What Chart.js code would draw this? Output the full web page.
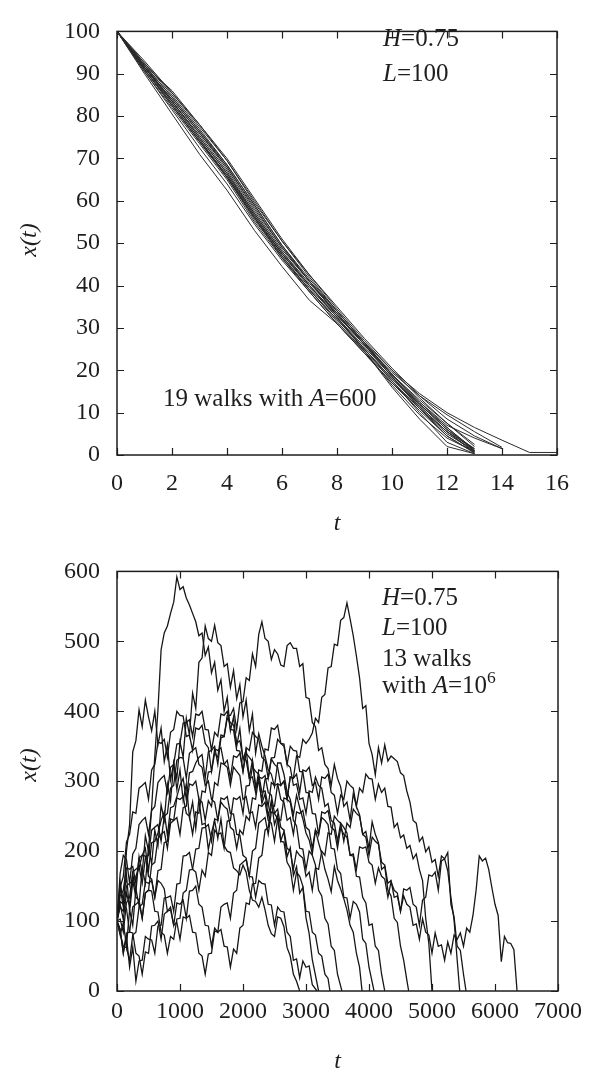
<!DOCTYPE html>
<html>
<head>
<meta charset="utf-8">
<script src="https://cdn.jsdelivr.net/npm/chart.js@4.4.1/dist/chart.umd.min.js"></script>
<style>
  body { margin: 0; background: #fff; width: 595px; height: 1070px; position: relative; overflow: hidden; }
  .box { position: absolute; left: 0; width: 595px; }
</style>
</head>
<body>
<div class="box" style="top:0;height:540px"><canvas id="topChart" width="595" height="540"></canvas></div>
<div class="box" style="top:540px;height:530px"><canvas id="bottomChart" width="595" height="530"></canvas></div>
<script>
// top panel: 19 walks with A=600, sampled at integer t
const topT = [0, 1, 2, 3, 4, 5, 6, 7, 8, 9, 10, 11, 12, 13, 14, 15, 16];
const topWalks = [
  [100, 92, 86, 78, 70, 60.5, 51, 42.5, 34.5, 27, 20, 14.5, 10, 6.5, 3.5, 0.6, 0.6],
  [100, 91.5, 84, 76, 68, 58.5, 49, 41, 33, 26, 19.5, 14, 9.5, 5.5, 1.8],
  [100, 92, 84.5, 76.5, 68.5, 59, 49.5, 41.5, 34, 26.5, 19, 12.5, 7, 4, 1.5],
  [100, 91, 82.5, 74, 65.5, 55.5, 47, 39, 32, 25, 18, 11.5, 5.5, 0.8],
  [100, 91.5, 83.5, 75.5, 67, 57, 48, 40, 32.5, 25.5, 18.5, 12, 6, 1],
  [100, 90.5, 81.5, 72.5, 64, 54.5, 46, 38.5, 31, 24, 17, 10.5, 4.5, 0.5],
  [100, 92.5, 85, 77, 68.5, 59, 49.5, 41, 33.5, 26, 18.5, 11.5, 5.5, 1.5],
  [100, 91.5, 83.5, 75, 66.5, 56.5, 47.5, 39.5, 32.5, 25, 17.5, 10, 3, 0.3],
  [100, 91, 82.5, 74, 66, 56.5, 47.5, 40, 32.5, 24.5, 16.5, 9.5, 4, 0.8],
  [100, 91.5, 83, 74.5, 65.5, 56, 47, 39, 32, 25, 18, 12, 6.5, 1.2],
  [100, 92.5, 85.5, 78, 69.5, 59.5, 50.5, 42, 34, 26.5, 19, 12.5, 6.5, 1],
  [100, 91, 83, 74.5, 66, 56, 46.5, 38.5, 31, 24, 17, 11, 5.5, 0.5],
  [100, 90, 80.5, 71, 62.5, 53, 44.5, 36.5, 31, 24.5, 16, 8.5, 2, 0.3],
  [100, 92, 84.5, 76.5, 68, 58, 49, 41, 33, 26, 19, 13, 7.5, 2.5],
  [100, 91, 82.5, 74, 65.5, 56, 47.5, 40, 33, 26.5, 20, 13.5, 7.5, 2],
  [100, 92, 83.5, 75, 66.5, 57, 48, 40.5, 33.5, 26, 18.5, 11, 4.5, 0.5],
  [100, 93, 85.5, 77.5, 69.5, 60, 50.5, 42.5, 35, 27.5, 20.5, 14, 8.5, 4.5, 1.5],
  [100, 90.5, 82, 73.5, 65, 55, 46.5, 39, 31.5, 24.5, 17.5, 11, 5, 1],
  [100, 91.5, 84, 76, 67.5, 57.5, 48.5, 41, 34, 26.5, 19, 12, 6, 1.5]
];

// bottom panel: 13 walks with A=10^6, sampled every 50 in t; each walk stops at x=0 at its end time
const botT = [0, 50, 100, 150, 200, 250, 300, 350, 400, 450, 500, 550, 600, 650, 700, 750, 800, 850, 900, 950,
  1000, 1050, 1100, 1150, 1200, 1250, 1300, 1350, 1400, 1450, 1500, 1550, 1600, 1650, 1700, 1750, 1800, 1850, 1900, 1950,
  2000, 2050, 2100, 2150, 2200, 2250, 2300, 2350, 2400, 2450, 2500, 2550, 2600, 2650, 2700, 2750, 2800, 2850, 2900, 2950,
  3000, 3050, 3100, 3150, 3200, 3250, 3300, 3350, 3400, 3450, 3500, 3550, 3600, 3650, 3700, 3750, 3800, 3850, 3900, 3950,
  4000, 4050, 4100, 4150, 4200, 4250, 4300, 4350, 4400, 4450, 4500, 4550, 4600, 4650, 4700, 4750, 4800, 4850, 4900, 4950,
  5000, 5050, 5100, 5150, 5200, 5250, 5300, 5350, 5400, 5450, 5500, 5550, 5600, 5650, 5700, 5750, 5800, 5850, 5900, 5950,
  6000, 6050, 6100, 6150, 6200, 6250, 6300];
const botEnds = [3200, 2900, 3890, 4630, 5440, 6350, 3380, 3570, 4250, 5000, 5540, 3175, 4080];
const botWalks = [
  [100, 124, 102, 140, 122, 168, 142, 192, 168, 222, 200, 262, 336, 402, 488, 512, 522, 540, 556, 592,
   574, 578, 562, 552, 540, 528, 508, 512, 480, 492, 455, 470, 430, 445, 400, 420, 372, 392, 350, 375,
   330, 345, 305, 330, 290, 305, 268, 282, 250, 272, 238, 252, 215, 228, 192, 205, 165, 178, 140, 148,
   105, 82, 45],
  [100, 148, 120, 200, 238, 342, 358, 402, 378, 416, 392, 372, 400, 352, 376, 328, 352, 302, 326, 288,
   316, 272, 296, 248, 270, 232, 274, 238, 240, 202, 226, 244, 218, 246, 208, 200, 198, 176, 172, 166,
   180, 170, 144, 130, 128, 120, 134, 116, 94, 82, 78, 106, 104, 92, 62, 50, 24, 14],
  [100, 80, 98, 64, 116, 94, 146, 122, 176, 154, 206, 182, 230, 208, 266, 244, 296, 272, 326, 304,
   356, 334, 390, 366, 426, 404, 470, 476, 522, 504, 500, 523, 498, 494, 464, 468, 434, 458, 418, 438,
   392, 416, 372, 396, 340, 368, 350, 336, 316, 310, 292, 326, 326, 310, 284, 274, 252, 280, 262, 246,
   226, 216, 196, 230, 212, 196, 174, 160, 142, 178, 158, 146, 132, 116, 94, 84, 54, 34],
  [100, 156, 128, 166, 114, 156, 164, 176, 194, 204, 172, 212, 214, 226, 244, 256, 222, 262, 264, 278,
   294, 304, 274, 312, 314, 326, 334, 338, 304, 342, 344, 350, 324, 362, 364, 394, 394, 404, 374, 412,
   414, 448, 444, 482, 464, 510, 528, 504, 500, 474, 488, 482, 466, 464, 494, 498, 490, 490, 464, 468,
   420, 418, 384, 378, 344, 348, 324, 318, 294, 324, 304, 292, 264, 270, 244, 282, 264, 252, 224, 228,
   204, 242, 224, 212, 174, 178, 144, 136, 104, 98, 64, 44, 16],
  [100, 82, 64, 62, 44, 80, 84, 120, 124, 156, 154, 158, 134, 172, 174, 212, 214, 246, 244, 248,
   224, 262, 264, 296, 294, 300, 274, 270, 244, 272, 264, 298, 294, 326, 324, 330, 304, 336, 334, 340,
   314, 348, 344, 370, 364, 360, 334, 330, 304, 332, 324, 320, 294, 300, 274, 306, 304, 336, 334, 360,
   354, 360, 369, 390, 384, 420, 424, 462, 464, 496, 494, 530, 534, 555, 532, 508, 479, 448, 404, 408,
   354, 338, 309, 348, 326, 352, 329, 336, 332, 328, 312, 308, 286, 270, 244, 240, 214, 220, 199, 206,
   184, 188, 164, 193, 189, 172, 134, 102, 44],
  [100, 88, 54, 78, 34, 63, 14, 43, 44, 78, 74, 73, 54, 93, 94, 133, 134, 136, 114, 153,
   154, 193, 194, 198, 174, 170, 144, 173, 164, 198, 194, 230, 224, 226, 204, 243, 244, 276, 274, 278,
   254, 293, 294, 320, 314, 310, 284, 286, 264, 298, 294, 296, 274, 270, 244, 248, 224, 256, 254, 258,
   234, 230, 204, 230, 224, 256, 254, 258, 234, 230, 204, 233, 224, 220, 194, 196, 174, 206, 204, 206,
   184, 180, 154, 176, 164, 160, 134, 156, 144, 140, 114, 136, 124, 120, 94, 96, 74, 103, 84, 80,
   54, 83, 64, 66, 44, 70, 54, 80, 74, 83, 64, 90, 84, 108, 144, 193, 186, 190, 174, 148,
   124, 108, 42, 78, 69, 68, 59],
  [100, 128, 124, 118, 84, 83, 54, 50, 24, 56, 54, 93, 94, 100, 74, 110, 114, 116, 94, 126,
   124, 130, 104, 143, 144, 150, 124, 120, 94, 93, 64, 90, 84, 120, 124, 126, 104, 140, 144, 180,
   184, 188, 164, 200, 204, 240, 244, 248, 224, 256, 254, 246, 214, 213, 184, 176, 144, 170, 164, 150,
   114, 113, 84, 80, 54, 50, 24, 18],
  [100, 136, 144, 176, 174, 178, 154, 190, 194, 193, 164, 160, 134, 158, 154, 146, 114, 120, 94, 98,
   74, 106, 104, 108, 84, 83, 54, 50, 24, 53, 54, 86, 84, 88, 64, 63, 34, 60, 54, 90,
   94, 126, 124, 153, 154, 190, 194, 230, 234, 266, 264, 296, 294, 300, 274, 270, 244, 236, 204, 203,
   174, 200, 194, 180, 144, 136, 104, 96, 64, 58, 24],
  [100, 148, 164, 213, 224, 256, 254, 290, 294, 298, 274, 316, 324, 356, 354, 360, 334, 370, 374, 400,
   394, 393, 364, 366, 344, 376, 374, 380, 354, 348, 314, 340, 334, 366, 364, 390, 384, 380, 354, 358,
   334, 330, 304, 306, 284, 316, 314, 346, 344, 376, 374, 380, 354, 350, 324, 320, 294, 296, 274, 276,
   254, 286, 284, 306, 294, 290, 264, 268, 244, 240, 214, 240, 234, 226, 194, 193, 164, 163, 134, 126,
   94, 96, 64, 58, 24],
  [100, 120, 114, 150, 154, 158, 134, 130, 104, 140, 144, 180, 184, 218, 224, 228, 204, 240, 244, 276,
   274, 278, 254, 250, 224, 256, 254, 286, 284, 313, 314, 346, 344, 348, 324, 320, 294, 320, 314, 308,
   274, 278, 254, 256, 234, 266, 264, 270, 244, 240, 214, 246, 244, 276, 274, 306, 304, 310, 284, 316,
   314, 320, 294, 298, 274, 306, 304, 310, 284, 280, 254, 280, 274, 300, 294, 290, 264, 290, 284, 310,
   304, 303, 274, 296, 284, 290, 264, 263, 234, 240, 219, 223, 204, 208, 189, 196, 174, 158, 104, 68],
  [100, 103, 84, 126, 134, 170, 174, 178, 154, 190, 194, 230, 234, 238, 214, 250, 254, 290, 294, 330,
   334, 333, 304, 340, 344, 348, 324, 320, 294, 300, 274, 270, 244, 270, 264, 260, 234, 230, 204, 230,
   224, 250, 244, 276, 274, 306, 304, 308, 284, 280, 254, 260, 234, 230, 204, 200, 174, 200, 194, 190,
   164, 170, 144, 176, 174, 200, 194, 226, 224, 250, 244, 240, 214, 240, 234, 260, 254, 250, 224, 220,
   194, 220, 214, 210, 184, 180, 154, 158, 134, 136, 114, 146, 144, 148, 124, 120, 94, 130, 134, 166,
   164, 170, 144, 186, 189, 198, 124, 106, 64, 58, 24],
  [100, 88, 54, 83, 84, 120, 124, 128, 104, 140, 144, 143, 114, 113, 84, 80, 54, 78, 74, 103,
   104, 140, 144, 173, 174, 203, 204, 233, 234, 238, 214, 246, 244, 276, 274, 278, 254, 253, 224, 223,
   194, 190, 164, 163, 134, 158, 154, 153, 124, 123, 94, 120, 114, 113, 84, 78, 44, 46, 19, 43,
   34, 36, 9],
  [100, 168, 194, 188, 154, 196, 204, 238, 244, 248, 224, 258, 264, 298, 304, 308, 284, 320, 324, 353,
   354, 383, 384, 388, 364, 396, 394, 400, 374, 373, 344, 370, 364, 396, 394, 400, 374, 373, 344, 343,
   314, 340, 334, 328, 294, 298, 274, 303, 304, 333, 334, 360, 354, 353, 324, 350, 344, 343, 314, 313,
   284, 283, 254, 253, 224, 248, 244, 238, 204, 203, 174, 168, 134, 133, 104, 128, 124, 113, 74, 68, 34]
];

const topTicksX = [0, 2, 4, 6, 8, 10, 12, 14, 16];
const topTicksY = [0, 10, 20, 30, 40, 50, 60, 70, 80, 90, 100];
const botTicksX = [0, 1000, 2000, 3000, 4000, 5000, 6000, 7000];
const botTicksY = [0, 100, 200, 300, 400, 500, 600];

const serif = '"Liberation Serif", "DejaVu Serif", serif';
const ink = '#1e1e1e';

// draws text pieces: [text, italic, superscript]
function richText(ctx, parts, x, y, size) {
  parts.forEach(([s, it, sup]) => {
    const fs = sup ? size * 0.7 : size;
    ctx.font = (it ? 'italic ' : '') + fs + 'px ' + serif;
    ctx.fillText(s, x, sup ? y - size * 0.42 : y);
    x += ctx.measureText(s).width;
  });
}

function makeFrame(notes, yTitleY, xTitleY) {
  return {
    id: 'frame',
    afterDraw(chart) {
      const { ctx, chartArea: a, scales: { x, y } } = chart;
      ctx.save();
      ctx.strokeStyle = ink;
      ctx.lineWidth = 1.5;
      ctx.strokeRect(a.left, a.top, a.right - a.left, a.bottom - a.top);
      ctx.beginPath();
      x.ticks.forEach(t => {
        const px = Math.round(x.getPixelForValue(t.value)) + 0.5;
        ctx.moveTo(px, a.bottom); ctx.lineTo(px, a.bottom - 7);
        ctx.moveTo(px, a.top); ctx.lineTo(px, a.top + 7);
      });
      y.ticks.forEach(t => {
        const py = Math.round(y.getPixelForValue(t.value)) + 0.5;
        ctx.moveTo(a.left, py); ctx.lineTo(a.left + 7, py);
        ctx.moveTo(a.right, py); ctx.lineTo(a.right - 7, py);
      });
      ctx.lineWidth = 1.2;
      ctx.stroke();

      ctx.fillStyle = ink;
      ctx.textBaseline = 'alphabetic';
      ctx.textAlign = 'left';
      notes.forEach(n => richText(ctx, n.parts, n.x, n.y, 25));

      // axis titles
      ctx.font = 'italic 24px ' + serif;
      ctx.textAlign = 'center';
      ctx.textBaseline = 'middle';
      ctx.fillText('t', (a.left + a.right) / 2, xTitleY);
      ctx.translate(30, yTitleY);
      ctx.rotate(-Math.PI / 2);
      ctx.fillText('x(t)', 0, 0);
      ctx.restore();
    }
  };
}

function axes(xTicks, yTicks, xPad, xHeight) {
  const tickFont = { family: serif, size: 24 };
  return {
    x: {
      type: 'linear', min: xTicks[0], max: xTicks[xTicks.length - 1],
      afterBuildTicks: s => { s.ticks = xTicks.map(v => ({ value: v })); },
      afterFit: s => { s.height = xHeight; },
      grid: { display: false, drawTicks: false }, border: { display: false },
      ticks: { font: tickFont, color: ink, padding: xPad, maxRotation: 0, autoSkip: false, callback: v => String(v) }
    },
    y: {
      type: 'linear', min: yTicks[0], max: yTicks[yTicks.length - 1],
      afterBuildTicks: s => { s.ticks = yTicks.map(v => ({ value: v })); },
      afterFit: s => { s.width = 117; },
      grid: { display: false, drawTicks: false }, border: { display: false },
      ticks: { font: tickFont, color: ink, padding: 17, autoSkip: false, callback: v => String(v) }
    }
  };
}

const lineStyle = { borderWidth: 1, pointRadius: 0, tension: 0, fill: false };

new Chart(document.getElementById('topChart'), {
  type: 'line',
  data: {
    datasets: topWalks.map(w => ({
      ...lineStyle, borderColor: '#2b2b2b',
      data: w.map((v, i) => ({ x: topT[i], y: v }))
    }))
  },
  options: {
    responsive: false, animation: false,
    layout: { padding: { left: 0, right: 38, top: 14, bottom: 0 } },
    scales: axes(topTicksX, topTicksY, 14, 85),
    plugins: { legend: { display: false }, tooltip: { enabled: false } }
  },
  plugins: [makeFrame([
    { parts: [['H', true], ['=0.75']], x: 383, y: 46 },
    { parts: [['L', true], ['=100']], x: 383, y: 81 },
    { parts: [['19 walks with '], ['A', true], ['=600']], x: 163, y: 406 }
  ], 240, 524)]
});

new Chart(document.getElementById('bottomChart'), {
  type: 'line',
  data: {
    datasets: botWalks.map((w, k) => ({
      ...lineStyle, borderWidth: 1.3, borderColor: '#161616',
      data: w.map((v, i) => ({ x: botT[i], y: v })).concat([{ x: botEnds[k], y: 0 }])
    }))
  },
  options: {
    responsive: false, animation: false,
    layout: { padding: { left: 0, right: 37, top: 10, bottom: 0 } },
    scales: axes(botTicksX, botTicksY, 6, 79),
    plugins: { legend: { display: false }, tooltip: { enabled: false } }
  },
  plugins: [makeFrame([
    { parts: [['H', true], ['=0.75']], x: 382, y: 65 },
    { parts: [['L', true], ['=100']], x: 382, y: 95 },
    { parts: [['13 walks']], x: 382, y: 126 },
    { parts: [['with '], ['A', true], ['=10'], ['6', false, true]], x: 382, y: 153 }
  ], 225, 522)]
});
</script>
</body>
</html>
